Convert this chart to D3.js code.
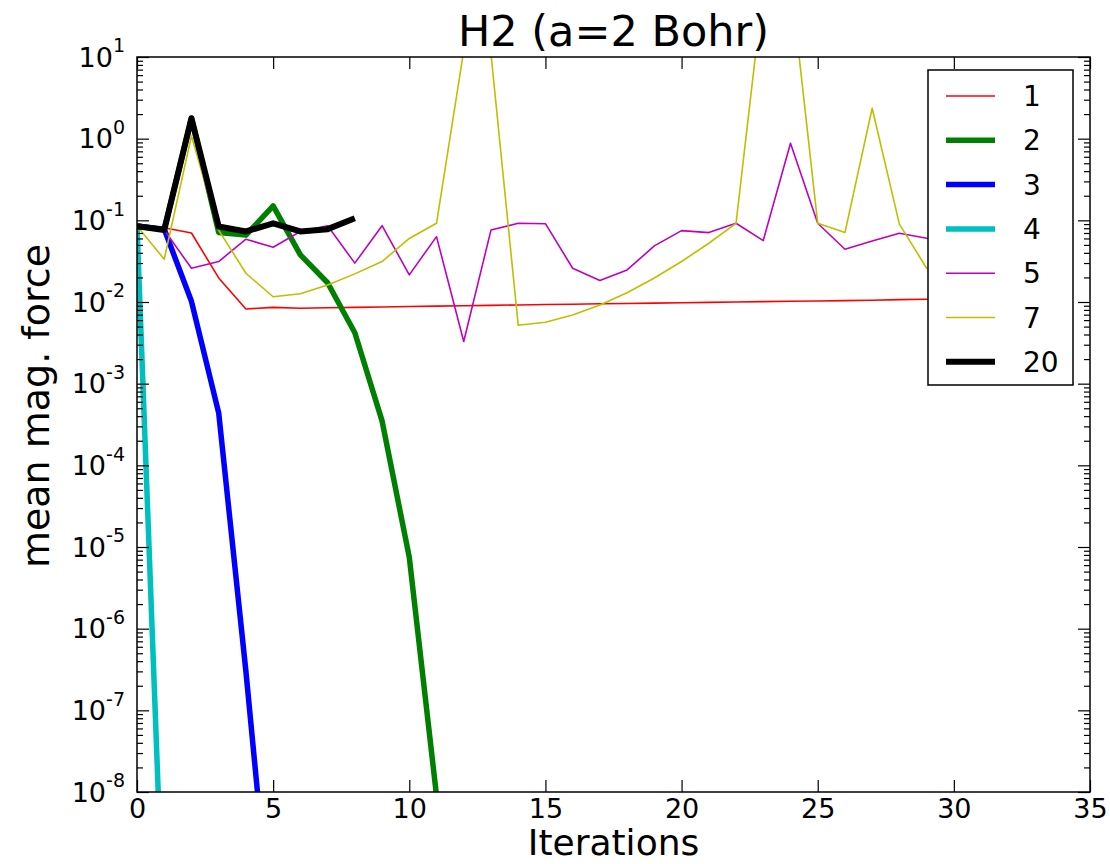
<!DOCTYPE html>
<html>
<head>
<script src="https://d3js.org/d3.v7.min.js"></script>
<style>
  body { margin: 0; background: #fff; }
  text { font-family: 'DejaVu Sans', sans-serif; }
  .axis path { stroke: #000; stroke-width: 1.5; }
  .axis line { stroke: #000; stroke-width: 1.2; }
</style>
</head>
<body>
<div id="chart"></div>
<script>
// iteration index = position in array
var seriesNames = ["1", "2", "3", "4", "5", "7", "20"];
var seriesColors = ["#ff0000", "#008000", "#0000ff", "#00bfbf", "#bf00bf", "#bfbf00", "#000000"];
var seriesWidths = [1.6, 5.5, 5.5, 5.5, 1.6, 1.6, 6];

var force1 = [0.085, 0.081, 0.070, 0.0197, 0.0082, 0.0086, 0.0084, 0.0085, 0.0086, 0.0087,
  0.0088, 0.0089, 0.0090, 0.0091, 0.0092, 0.0093, 0.0094, 0.0095, 0.0096, 0.0097,
  0.0098, 0.0099, 0.0100, 0.0101, 0.0102, 0.0103, 0.0104, 0.0105, 0.0107, 0.0108,
  0.0109, 0.0110];
var force2 = [0.085, 0.077, 1.78, 0.071, 0.066, 0.150, 0.0377, 0.0172, 0.0042, 3.5e-4, 7.5e-6, 9e-9];
var force3 = [0.085, 0.078, 0.0102, 4.4e-4, 3e-7, 1e-10];
var force4 = [0.085, 1.1e-10];
var force5 = [0.085, 0.076, 0.0259, 0.0313, 0.0587, 0.0468, 0.073, 0.086, 0.0299, 0.086,
  0.0215, 0.0632, 0.00328, 0.076, 0.092, 0.091, 0.0259, 0.0183, 0.0247, 0.0486,
  0.0748, 0.0708, 0.092, 0.0565, 0.879, 0.092, 0.0443, 0.056, 0.0695, 0.0604, 0.058];
var force7 = [0.085, 0.0334, 1.08, 0.076, 0.0225, 0.0116, 0.0126, 0.0162, 0.0221, 0.0313,
  0.060, 0.092, 12, 11, 0.0052, 0.00566, 0.00695, 0.0092, 0.0130, 0.0197,
  0.0313, 0.0524, 0.092, 70, 90, 0.092, 0.0708, 2.36, 0.090, 0.0259, 0.022];
var force20 = [0.085, 0.076, 1.78, 0.084, 0.073, 0.092, 0.073, 0.078, 0.106];

var allForces = [force1, force2, force3, force4, force5, force7, force20];

var xTicks = [0, 5, 10, 15, 20, 25, 30, 35];
var yExponents = [1, 0, -1, -2, -3, -4, -5, -6, -7, -8];

var margin = { top: 57, right: 20, bottom: 72, left: 137 };
var W = 1110, H = 864;
var width = W - margin.left - margin.right;
var height = H - margin.top - margin.bottom;

var svg = d3.select("#chart").append("svg")
  .attr("width", W)
  .attr("height", H);

var g = svg.append("g")
  .attr("transform", "translate(" + margin.left + "," + margin.top + ")");

var x = d3.scaleLinear().domain([0, 35]).range([0, width]);
var y = d3.scaleLog().domain([1e-8, 1e1]).range([height, 0]);

g.append("clipPath").attr("id", "clip")
  .append("rect").attr("width", width).attr("height", height);

var line = d3.line()
  .x(function (d, i) { return x(i); })
  .y(function (d) { return y(d); });

var lines = g.append("g").attr("clip-path", "url(#clip)");
allForces.forEach(function (vals, k) {
  lines.append("path")
    .datum(vals)
    .attr("fill", "none")
    .attr("stroke", seriesColors[k])
    .attr("stroke-width", seriesWidths[k])
    .attr("stroke-linejoin", "round")
    .attr("d", line);
});

// minor ticks for log axis
var minorVals = [];
for (var e = -8; e < 1; e++) {
  for (var m = 2; m <= 9; m++) minorVals.push(m * Math.pow(10, e));
}
var majorVals = yExponents.map(function (e) { return Math.pow(10, e); });

function yAxisParts(axisFn, tx) {
  g.append("g").attr("class", "axis")
    .attr("transform", "translate(" + tx + ",0)")
    .call(axisFn(y).tickValues(minorVals).tickSize(-6).tickFormat(""))
    .call(function (s) { s.select(".domain").remove(); });
  g.append("g").attr("class", "axis")
    .attr("transform", "translate(" + tx + ",0)")
    .call(axisFn(y).tickValues(majorVals).tickSize(-12).tickFormat(""))
    .call(function (s) { s.select(".domain").remove(); });
}
yAxisParts(d3.axisLeft, 0);
yAxisParts(d3.axisRight, width);

var xb = g.append("g").attr("class", "axis")
  .attr("transform", "translate(0," + height + ")")
  .call(d3.axisBottom(x).tickValues(xTicks).tickSize(-12).tickPadding(5));
xb.select(".domain").remove();
xb.selectAll("text").attr("font-size", 27).attr("fill", "#000")
  .attr("font-family", "'DejaVu Sans', sans-serif").attr("dy", "0.78em");

var xt = g.append("g").attr("class", "axis")
  .call(d3.axisTop(x).tickValues(xTicks).tickSize(-12).tickFormat(""));
xt.select(".domain").remove();

// frame
g.append("rect")
  .attr("width", width).attr("height", height)
  .attr("fill", "none").attr("stroke", "#000").attr("stroke-width", 1.5);

// y tick labels 10^n
var yl = g.append("g").attr("font-size", 27);
yExponents.forEach(function (e) {
  var t = yl.append("text")
    .attr("x", -12)
    .attr("y", y(Math.pow(10, e)))
    .attr("dy", "0.36em")
    .attr("text-anchor", "end");
  t.append("tspan").text("10");
  t.append("tspan").attr("font-size", 19).attr("dy", "-0.75em").text(String(e));
});

// title and axis labels
svg.append("text")
  .attr("x", margin.left + width / 2).attr("y", 46)
  .attr("text-anchor", "middle").attr("font-size", 43)
  .text("H2 (a=2 Bohr)");

svg.append("text")
  .attr("x", margin.left + width / 2).attr("y", 855)
  .attr("text-anchor", "middle").attr("font-size", 36)
  .text("Iterations");

svg.append("text")
  .attr("transform", "translate(49,406) rotate(-90)")
  .attr("text-anchor", "middle").attr("font-size", 38)
  .text("mean mag. force");

// legend
var leg = svg.append("g").attr("transform", "translate(928,70)");
leg.append("rect")
  .attr("width", 145).attr("height", 315)
  .attr("fill", "#fff").attr("stroke", "#000").attr("stroke-width", 1.5);
seriesNames.forEach(function (name, k) {
  var ly = 26 + k * 44.3;
  leg.append("line")
    .attr("x1", 18).attr("x2", 67).attr("y1", ly).attr("y2", ly)
    .attr("stroke", seriesColors[k]).attr("stroke-width", seriesWidths[k]);
  leg.append("text")
    .attr("x", 95).attr("y", ly).attr("dy", "0.36em")
    .attr("font-size", 28).text(name);
});
</script>
</body>
</html>
